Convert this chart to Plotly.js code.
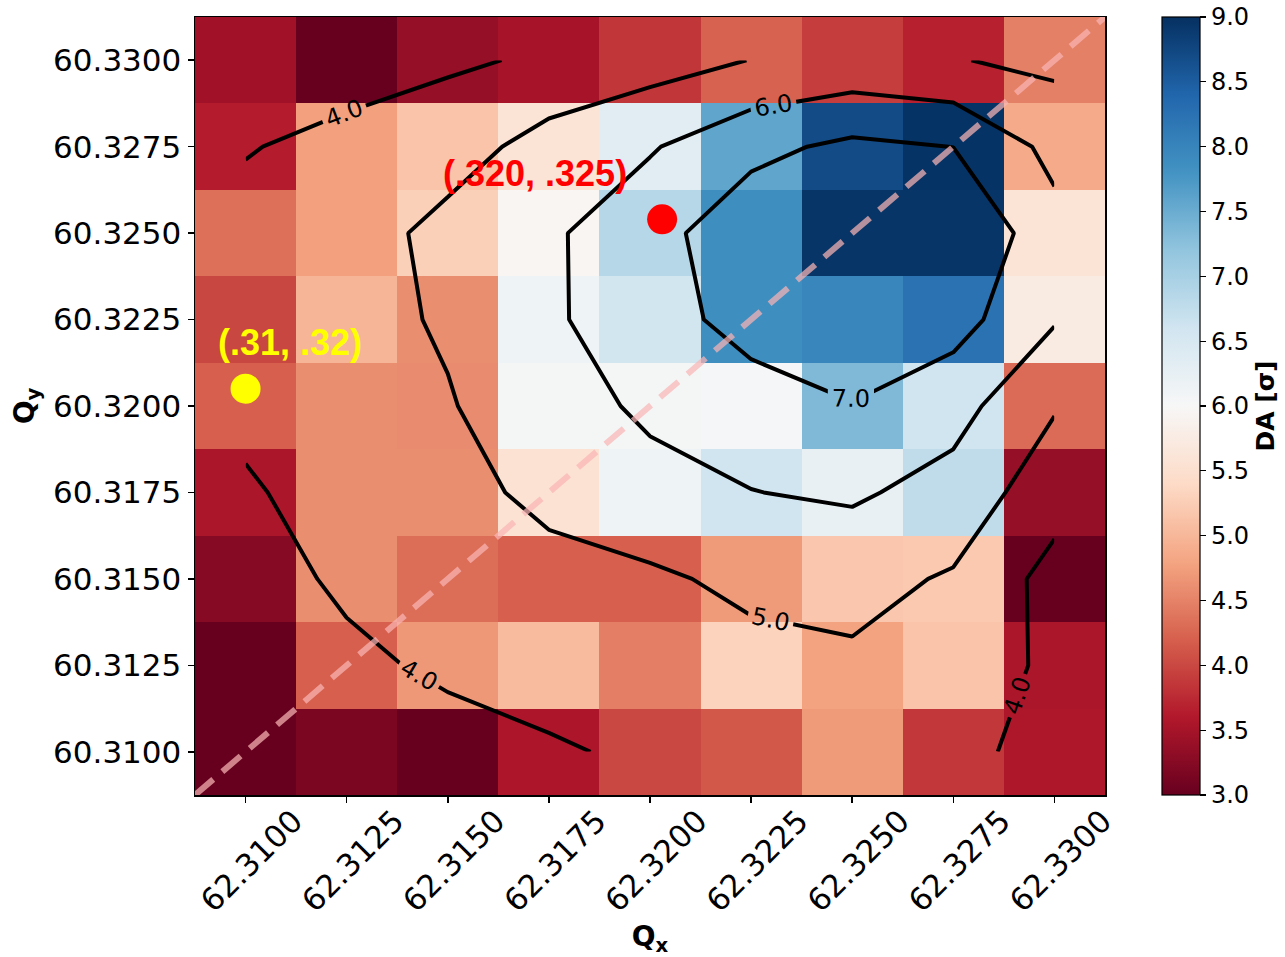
<!DOCTYPE html>
<html>
<head>
<meta charset="utf-8">
<script src="https://cdn.plot.ly/plotly-3.0.1.min.js"></script>
<style>html,body{margin:0;padding:0;background:#fff;}#chart{width:1285px;height:957px;}</style>
</head>
<body>
<div id="chart"></div>
<script>
// Tune grid
const qx = [62.3100, 62.3125, 62.3150, 62.3175, 62.3200, 62.3225, 62.3250, 62.3275, 62.3300];
const qy = [60.3100, 60.3125, 60.3150, 60.3175, 60.3200, 60.3225, 60.3250, 60.3275, 60.3300];

// Dynamic aperture per cell (rows = qy from bottom to top, columns = qx)
const daRow0 = [3.00, 3.15, 3.00, 3.56, 4.00, 4.13, 4.70, 3.87, 3.57];
const daRow1 = [3.00, 4.20, 4.69, 5.04, 4.47, 5.31, 4.78, 5.14, 3.55];
const daRow2 = [3.26, 4.60, 4.32, 4.20, 4.20, 4.70, 5.17, 5.20, 3.00];
const daRow3 = [3.55, 4.60, 4.60, 5.55, 6.14, 6.60, 6.24, 6.76, 3.37];
const daRow4 = [4.20, 4.60, 4.57, 6.05, 6.05, 6.04, 7.34, 6.60, 4.30];
const daRow5 = [3.99, 4.98, 4.60, 6.14, 6.58, 7.87, 7.98, 8.24, 5.74];
const daRow6 = [4.34, 4.76, 5.28, 5.95, 6.87, 7.87, 8.95, 8.95, 5.57];
const daRow7 = [3.63, 4.76, 5.14, 5.57, 6.35, 7.59, 8.70, 8.97, 4.87];
const daRow8 = [3.46, 3.00, 3.37, 3.51, 3.85, 4.22, 3.91, 3.67, 4.48];

// Smoothed DA field used for the contour lines
const ctRow0 = [2.80, 3.00, 3.11, 3.86, 4.20, 4.40, 4.50, 4.40, 3.49];
const ctRow1 = [3.00, 3.51, 4.40, 4.50, 4.70, 4.81, 4.85, 4.60, 3.79];
const ctRow2 = [3.02, 4.40, 4.50, 4.54, 4.90, 5.14, 5.30, 4.90, 3.66];
const ctRow3 = [3.80, 4.71, 4.54, 5.35, 5.44, 5.98, 6.14, 5.64, 4.40];
const ctRow4 = [4.40, 4.70, 4.97, 5.27, 6.30, 6.48, 6.95, 6.36, 5.08];
const ctRow5 = [4.50, 4.85, 5.05, 5.875, 6.50, 7.44, 7.95, 7.39, 6.08];
const ctRow6 = [4.85, 4.44, 5.36, 5.85, 6.65, 7.64, 8.20, 8.00, 6.33];
const ctRow7 = [3.85, 4.73, 4.50, 5.43, 5.91, 6.74, 7.21, 6.99, 5.72];
const ctRow8 = [3.30, 2.90, 3.875, 4.11, 4.59, 5.02, 5.29, 5.05, 4.77];
const contourLevels = [4, 5, 6, 7];

// Working points
const pointQx = [62.3100, 62.3203];
const pointQy = [60.3205, 60.3254];
const pointLabels = ['(.31, .32)', '(.320, .325)'];
const pointColors = ['#ffff00', '#ff0000'];

// Resonance line Qx - Qy = 2
const resonanceOffset = 2.0;

// Colour scale range
const daMin = 3.0, daMax = 9.0;

// matplotlib RdBu
const rdbuColors = ['#67001f','#b2182b','#d6604d','#f4a582','#fddbc7','#f7f7f7','#d1e5f0','#92c5de','#4393c3','#2166ac','#053061'];
const rdbu = rdbuColors.map((c, i) => [i / (rdbuColors.length - 1), c]);

const daGrid = [daRow0, daRow1, daRow2, daRow3, daRow4, daRow5, daRow6, daRow7, daRow8];
const ctGrid = [ctRow0, ctRow1, ctRow2, ctRow3, ctRow4, ctRow5, ctRow6, ctRow7, ctRow8];

const dx = qx[1] - qx[0], dy = qy[1] - qy[0];
const xRange = [qx[0] - dx / 2, qx[qx.length - 1] + dx / 2];
const yRange = [qy[0] - dy / 2, qy[qy.length - 1] + dy / 2];

const tickFont = {family: 'DejaVu Sans', size: 31, color: '#000'};

const traces = [
  {
    type: 'heatmap', x: qx, y: qy, z: daGrid,
    colorscale: rdbu, zmin: daMin, zmax: daMax,
    hoverinfo: 'skip',
    colorbar: {
      x: 1.0626, xanchor: 'left', xpad: 0, ypad: 0,
      y: 0.5, yanchor: 'middle', len: 1, lenmode: 'fraction',
      thickness: 38, thicknessmode: 'pixels',
      outlinewidth: 1.2, outlinecolor: '#000',
      ticks: 'outside', ticklen: 6, tickwidth: 1.2, tickcolor: '#000',
      tick0: 3, dtick: 0.5, tickformat: '.1f',
      tickfont: {family: 'DejaVu Sans', size: 24, color: '#000'},
      title: {text: '<b>DA [σ]</b>', side: 'right', font: {family: 'DejaVu Sans', size: 25, color: '#000'}}
    }
  },
  {
    type: 'contour', x: qx, y: qy, z: ctGrid,
    autocontour: false,
    contours: {
      coloring: 'none',
      start: contourLevels[0], end: contourLevels[contourLevels.length - 1], size: 1,
      showlabels: true, labelformat: '.1f',
      labelfont: {family: 'DejaVu Sans', size: 24, color: '#000'}
    },
    line: {color: '#000', width: 4, smoothing: 0},
    showscale: false, hoverinfo: 'skip'
  },
  {
    type: 'scatter', mode: 'lines',
    x: xRange, y: xRange.map(v => v - resonanceOffset),
    line: {color: 'rgba(250,180,180,0.72)', width: 6, dash: '24px,12px'},
    hoverinfo: 'skip', showlegend: false
  },
  {
    type: 'scatter', mode: 'markers',
    x: pointQx, y: pointQy,
    marker: {size: 30, color: pointColors, line: {width: 0}},
    cliponaxis: false, hoverinfo: 'skip', showlegend: false
  }
];

const annShift = [[44, 46], [-127, 46]];
const annotations = pointLabels.map((t, i) => ({
  x: pointQx[i], y: pointQy[i], xref: 'x', yref: 'y',
  text: t, showarrow: false,
  xshift: annShift[i][0], yshift: annShift[i][1],
  font: {family: 'Liberation Sans', size: 36, color: pointColors[i], weight: 'bold'}
}));

const layout = {
  width: 1285, height: 957,
  margin: {l: 195, r: 180, t: 17, b: 162, autoexpand: false},
  paper_bgcolor: '#fff', plot_bgcolor: '#fff',
  showlegend: false,
  xaxis: {
    range: xRange, tickvals: qx, tickformat: '.4f', tickangle: -45,
    ticklabelshift: 48, ticklabelstandoff: -12,
    ticks: 'outside', ticklen: 6, tickwidth: 1.5, tickcolor: '#000',
    showgrid: false, zeroline: false,
    showline: true, mirror: true, linecolor: '#000', linewidth: 1.5,
    tickfont: tickFont,
    title: {text: '<b>Q<sub>x</sub></b>', font: {family: 'DejaVu Sans', size: 28, color: '#000'}, standoff: 20}
  },
  yaxis: {
    range: yRange, tickvals: qy, tickformat: '.4f',
    ticks: 'outside', ticklen: 6, tickwidth: 1.5, tickcolor: '#000',
    showgrid: false, zeroline: false,
    showline: true, mirror: true, linecolor: '#000', linewidth: 1.5,
    tickfont: tickFont,
    title: {text: '<b>Q<sub>y</sub></b>', font: {family: 'DejaVu Sans', size: 28, color: '#000'}, standoff: 10}
  },
  annotations: annotations
};

Plotly.newPlot('chart', traces, layout, {displayModeBar: false, staticPlot: true});
</script>
</body>
</html>
